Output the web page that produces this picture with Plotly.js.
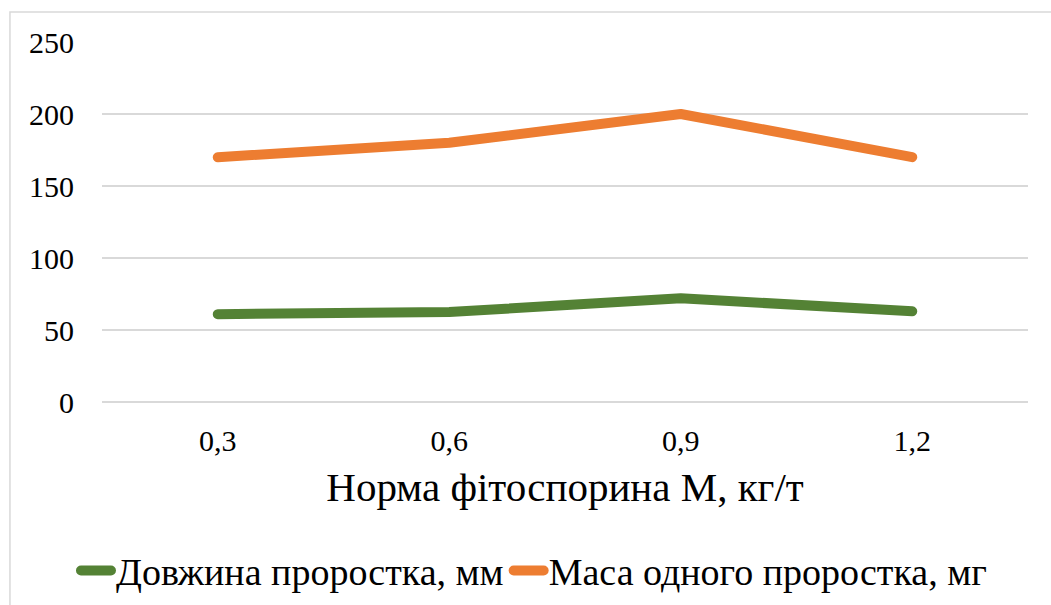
<!DOCTYPE html>
<html>
<head>
<meta charset="utf-8">
<script src="https://cdn.plot.ly/plotly-3.0.1.min.js"></script>
</head>
<body style="margin:0;padding:0;background:#ffffff">
<div id="chart" style="width:1051px;height:605px"></div>
<script>
const categories = ['0,3', '0,6', '0,9', '1,2'];
const lengthValues = [61, 62.5, 72, 63];
const massValues = [170, 180, 200, 170];
const seriesNames = ['Довжина проростка, мм', 'Маса одного проростка, мг'];
const xTitle = 'Норма фітоспорина М, кг/т';
const yTicks = [0, 50, 100, 150, 200, 250];

const serif = 'Liberation Serif';

const traces = [
  {
    x: categories, y: lengthValues, name: seriesNames[0],
    type: 'scatter', mode: 'lines',
    line: { color: '#548235', width: 10 }
  },
  {
    x: categories, y: massValues, name: seriesNames[1],
    type: 'scatter', mode: 'lines',
    line: { color: '#ED7D31', width: 10 }
  }
];

const layout = {
  width: 1051, height: 605,
  paper_bgcolor: '#ffffff', plot_bgcolor: '#ffffff',
  margin: { l: 102, r: 23, t: 42, b: 203, autoexpand: false },
  font: { family: serif, color: '#000000', size: 30 },
  showlegend: true,
  xaxis: {
    type: 'category',
    range: [-0.5, 3.5],
    automargin: false,
    showgrid: false, zeroline: false, showline: false,
    ticks: '',
    ticklabelstandoff: 18,
    tickfont: { family: serif, size: 30, color: '#000000' },
    title: { text: xTitle, font: { family: serif, size: 41, color: '#000000' }, standoff: 16 }
  },
  yaxis: {
    range: [0, 250],
    automargin: false,
    tickvals: yTicks,
    ticktext: yTicks.map(String),
    showgrid: true, gridcolor: '#d9d9d9', gridwidth: 1.5,
    zeroline: true, zerolinecolor: '#d9d9d9', zerolinewidth: 1.5,
    showline: false, ticks: '',
    ticklabelstandoff: 27,
    tickfont: { family: serif, size: 30, color: '#000000' }
  },
  legend: {
    orientation: 'h',
    x: 0.4665, xanchor: 'center',
    y: -0.469, yanchor: 'middle',
    font: { family: serif, size: 38, color: '#000000' },
    itemwidth: 30,
    tracegroupgap: 0,
    bgcolor: 'rgba(0,0,0,0)'
  },
  shapes: [
    {
      type: 'rect', xref: 'paper', yref: 'paper',
      x0: -0.0994, x1: 1.2, y0: -0.8, y1: 1.0833,
      line: { color: '#d9d9d9', width: 1.5 },
      fillcolor: 'rgba(0,0,0,0)', layer: 'below'
    }
  ]
};

Plotly.newPlot('chart', traces, layout, { displayModeBar: false }).then(function (gd) {
  gd.querySelectorAll('path.js-line').forEach(function (p) {
    p.style.strokeLinecap = 'round';
    p.style.strokeLinejoin = 'round';
  });
});
</script>
</body>
</html>
